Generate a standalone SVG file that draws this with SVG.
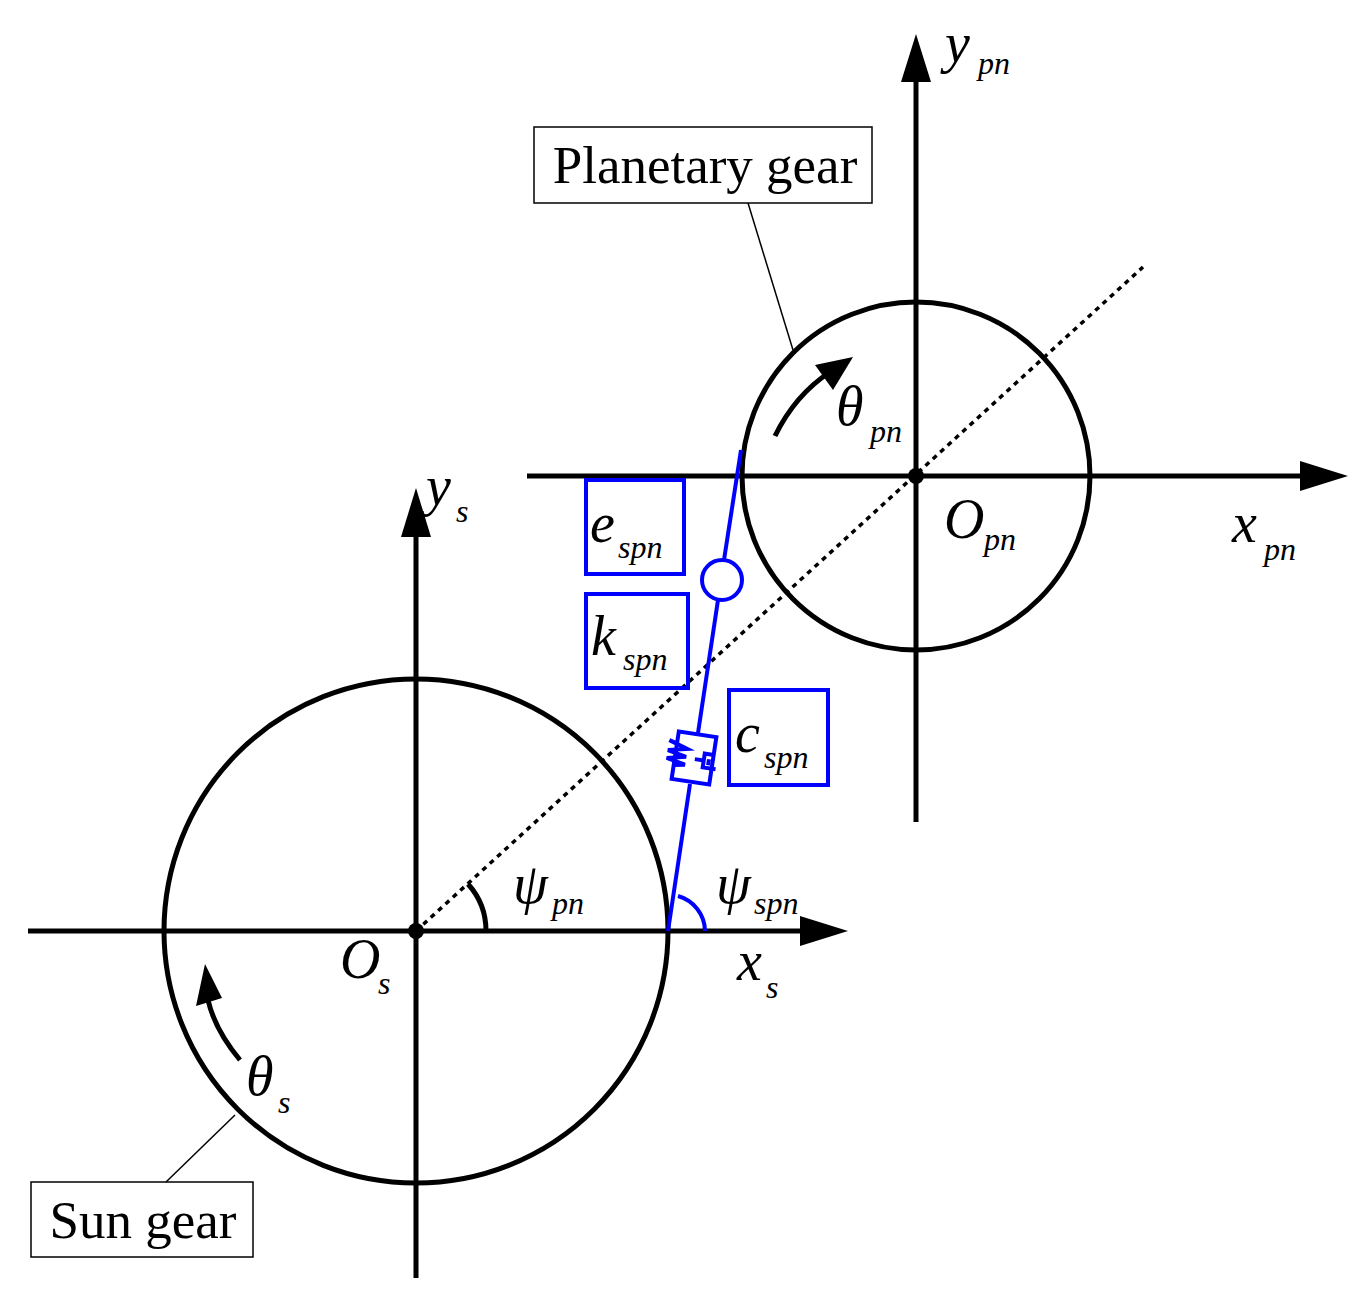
<svg xmlns="http://www.w3.org/2000/svg" width="1363" height="1305" viewBox="0 0 1363 1305">
<style>
.k{stroke:#000;fill:none;stroke-width:5}
.t{stroke:#000;fill:none;stroke-width:1.5}
.b{stroke:#0000ff;fill:none;stroke-width:4}
.lbl{font-family:"Liberation Serif",serif;font-size:53px}
.m{font-family:"Liberation Serif",serif;font-style:italic;font-size:56px}
.s{font-family:"Liberation Serif",serif;font-style:italic;font-size:32px}
</style>
<g id="sun-axes">
<line class="k" x1="28" y1="931" x2="805" y2="931"/><path d="M800,916 L848,931 L800,946 z"/>
<line class="k" x1="416" y1="1278" x2="416" y2="535"/><path d="M401,537 L416,488 L431,537 z"/>
<circle class="k" cx="416" cy="931" r="252"/><circle cx="416" cy="931" r="8"/>
</g>
<g id="planet-axes">
<line class="k" x1="527" y1="476" x2="1305" y2="476"/><path d="M1300,461 L1348,476 L1300,491 z"/>
<line class="k" x1="916" y1="822" x2="916" y2="80"/><path d="M901,82 L916,34 L931,82 z"/>
<circle class="k" cx="916" cy="476" r="174"/><circle cx="916" cy="476" r="8"/>
</g>
<g id="connectors">
<line x1="416" y1="931" x2="1143" y2="267" stroke="#000" stroke-width="3.5" stroke-dasharray="5,5"/>
<path class="k" d="M486,931 A70,70 0 0 0 468,884" stroke-width="3"/>
<path class="b" d="M705,931 A37,37 0 0 0 678,896"/>
<line class="b" x1="741" y1="450" x2="724" y2="560"/>
<line class="b" x1="718" y1="600" x2="698" y2="733"/>
<line class="b" x1="690" y1="784" x2="668" y2="931"/>
<circle class="b" cx="722" cy="580" r="20"/>
<g transform="rotate(8.6 694 758)">
<rect class="b" x="675" y="734" width="38" height="48"/>
<path class="b" d="M675,746 L667,744 L686,750 L667,754 L686,758 L667,762 L686,766 L675,768"/>
<path class="b" d="M713,752 L704,752 L704,766 L717,766 M704,759 L695,759 M709,757 L709,763"/>
</g>
<line class="t" x1="748" y1="203" x2="793" y2="350"/>
<line class="t" x1="166" y1="1182" x2="235" y2="1115"/>
<path class="k" d="M775,436 Q795,395 830,372"/><path d="M815,365 L853,357 L833,390 z"/>
<path class="k" d="M240,1060 Q215,1030 208,1000"/><path d="M196,1006 L205,964 L222,998 z"/>
</g>
<g id="planetary-label"><rect class="t" x="534" y="127" width="338" height="76"/><text class="lbl" x="705" y="183" text-anchor="middle">Planetary gear</text></g>
<g id="sun-label"><rect class="t" x="31" y="1182" width="222" height="75"/><text class="lbl" x="143" y="1238" text-anchor="middle">Sun gear</text></g>
<g id="e-label"><rect class="b" x="586" y="480" width="98" height="94" stroke-width="2.5"/><text class="m" x="590" y="542">e</text><text class="s" x="618" y="558">spn</text></g>
<g id="k-label"><rect class="b" x="586" y="594" width="102" height="94" stroke-width="2.5"/><text class="m" x="591" y="655">k</text><text class="s" x="623" y="670">spn</text></g>
<g id="c-label"><rect class="b" x="729" y="690" width="99" height="95" stroke-width="2.5"/><text class="m" x="735" y="752">c</text><text class="s" x="764" y="768">spn</text></g>
<g id="texts">
<text class="m" x="945" y="62">y</text><text class="s" x="978" y="74">pn</text>
<text class="m" x="1232" y="542">x</text><text class="s" x="1264" y="560">pn</text>
<text class="m" x="944" y="538">O</text><text class="s" x="984" y="550">pn</text>
<text class="m" x="836" y="425">θ</text><text class="s" x="870" y="442">pn</text>
<text class="m" x="426" y="505">y</text><text class="s" x="456" y="522">s</text>
<text class="m" x="737" y="980">x</text><text class="s" x="766" y="998">s</text>
<text class="m" x="340" y="978">O</text><text class="s" x="378" y="994">s</text>
<text class="m" x="246" y="1095">θ</text><text class="s" x="278" y="1113">s</text>
<text class="m" x="513" y="903">ψ</text><text class="s" x="552" y="914">pn</text>
<text class="m" x="716" y="903">ψ</text><text class="s" x="754" y="914">spn</text>
</g>
</svg>
